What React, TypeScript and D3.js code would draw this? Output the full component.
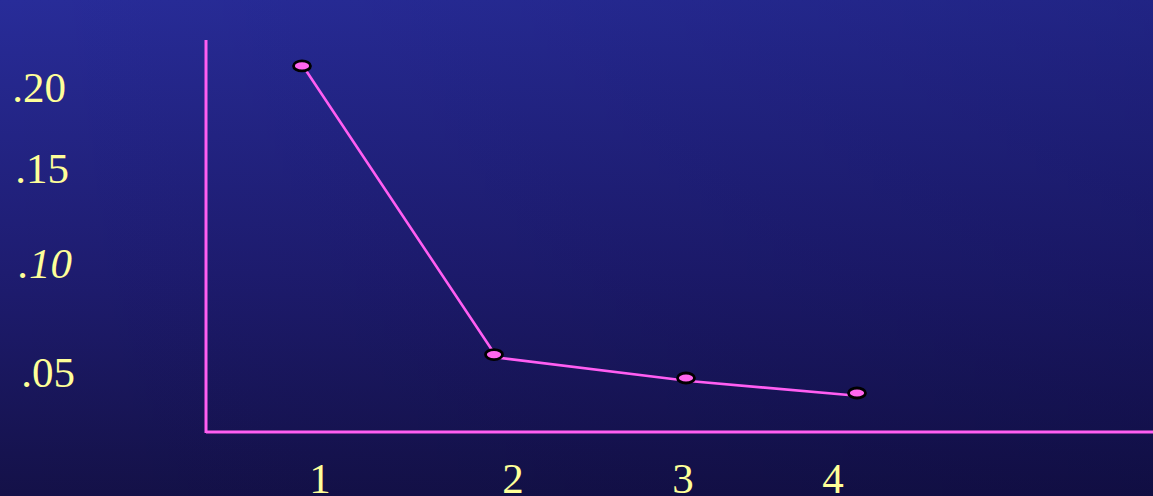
// Line chart on a slide-style gradient background
import React, { useEffect, useRef } from 'react';
import * as d3 from 'd3';

// Categories along the bottom
const categories = [1, 2, 3, 4];
// Series values
const values = [0.213, 0.058, 0.045, 0.0325];
// Y tick labels
const yTicks = [0.2, 0.15, 0.1, 0.05];
const yTickLabels = ['.20', '.15', '.10', '.05'];

const WIDTH = 1153;
const HEIGHT = 496;

const App: React.FC = () => {
  const svgRef = useRef<SVGSVGElement>(null);

  useEffect(() => {
    document.body.style.margin = '0';
    document.body.style.overflow = 'hidden';
    if (!svgRef.current) return;

    const svg = d3.select(svgRef.current);
    svg.selectAll('*').remove();

    // Background gradients
    const defs = svg.append('defs');
    const vGrad = defs.append('linearGradient')
      .attr('id', 'bgV')
      .attr('x1', 0).attr('y1', 0).attr('x2', 0).attr('y2', 1);
    vGrad.append('stop').attr('offset', '0%').attr('stop-color', '#282c99');
    vGrad.append('stop').attr('offset', '55%').attr('stop-color', '#1e1c70');
    vGrad.append('stop').attr('offset', '100%').attr('stop-color', '#141148');

    const hGrad = defs.append('linearGradient')
      .attr('id', 'bgH')
      .attr('x1', 0).attr('y1', 0).attr('x2', 1).attr('y2', 0);
    hGrad.append('stop').attr('offset', '0%').attr('stop-color', '#000028').attr('stop-opacity', 0);
    hGrad.append('stop').attr('offset', '100%').attr('stop-color', '#000028').attr('stop-opacity', 0.18);

    svg.append('rect').attr('width', WIDTH).attr('height', HEIGHT).attr('fill', 'url(#bgV)');
    svg.append('rect').attr('width', WIDTH).attr('height', HEIGHT).attr('fill', 'url(#bgH)');

    // Scales (hand-drawn slide: uneven spacing, so piecewise)
    const y = d3.scaleLinear()
      .domain([0, 0.05, 0.1, 0.15, 0.2])
      .range([432, 372, 263, 168, 87]);

    const x = d3.scaleLinear()
      .domain(categories)
      .range([302, 494, 686, 857]);

    const xLabel = d3.scaleLinear()
      .domain(categories)
      .range([320, 513, 683, 833]);

    const axisColor = '#ff5ef2';
    const textColor = '#ffff99';
    const font = '"Liberation Serif", "Times New Roman", serif';

    // Axes
    svg.append('line')
      .attr('x1', 206).attr('x2', 206)
      .attr('y1', 40).attr('y2', 433)
      .attr('stroke', axisColor).attr('stroke-width', 3);
    svg.append('line')
      .attr('x1', 206).attr('x2', WIDTH)
      .attr('y1', 432).attr('y2', 432)
      .attr('stroke', axisColor).attr('stroke-width', 3);

    // Y tick labels
    svg.selectAll('.ytick')
      .data(yTicks)
      .enter()
      .append('text')
      .attr('class', 'ytick')
      .attr('x', (d, i) => 66 + i * 3)
      .attr('y', d => y(d) + 15)
      .attr('text-anchor', 'end')
      .attr('font-family', font)
      .attr('font-size', 43)
      .attr('font-style', (d, i) => (yTickLabels[i] === '.10' ? 'italic' : 'normal'))
      .attr('fill', textColor)
      .text((d, i) => yTickLabels[i]);

    // X tick labels
    svg.selectAll('.xtick')
      .data(categories)
      .enter()
      .append('text')
      .attr('class', 'xtick')
      .attr('x', d => xLabel(d))
      .attr('y', 493)
      .attr('text-anchor', 'middle')
      .attr('font-family', font)
      .attr('font-size', 43)
      .attr('fill', textColor)
      .text(d => String(d));

    // Line
    const line = d3.line<number>()
      .x((d, i) => x(categories[i]) + 3)
      .y(d => y(d) + 3);

    svg.append('path')
      .datum(values)
      .attr('d', line)
      .attr('fill', 'none')
      .attr('stroke', axisColor)
      .attr('stroke-width', 2.6);

    // Markers
    svg.selectAll('.pt')
      .data(values)
      .enter()
      .append('ellipse')
      .attr('class', 'pt')
      .attr('cx', (d, i) => x(categories[i]))
      .attr('cy', d => y(d))
      .attr('rx', 8.5)
      .attr('ry', 5)
      .attr('fill', '#ff66ee')
      .attr('stroke', '#000')
      .attr('stroke-width', 2.8);
  }, []);

  return (
    <svg
      ref={svgRef}
      width={WIDTH}
      height={HEIGHT}
      style={{ display: 'block' }}
    />
  );
};

export default App;
